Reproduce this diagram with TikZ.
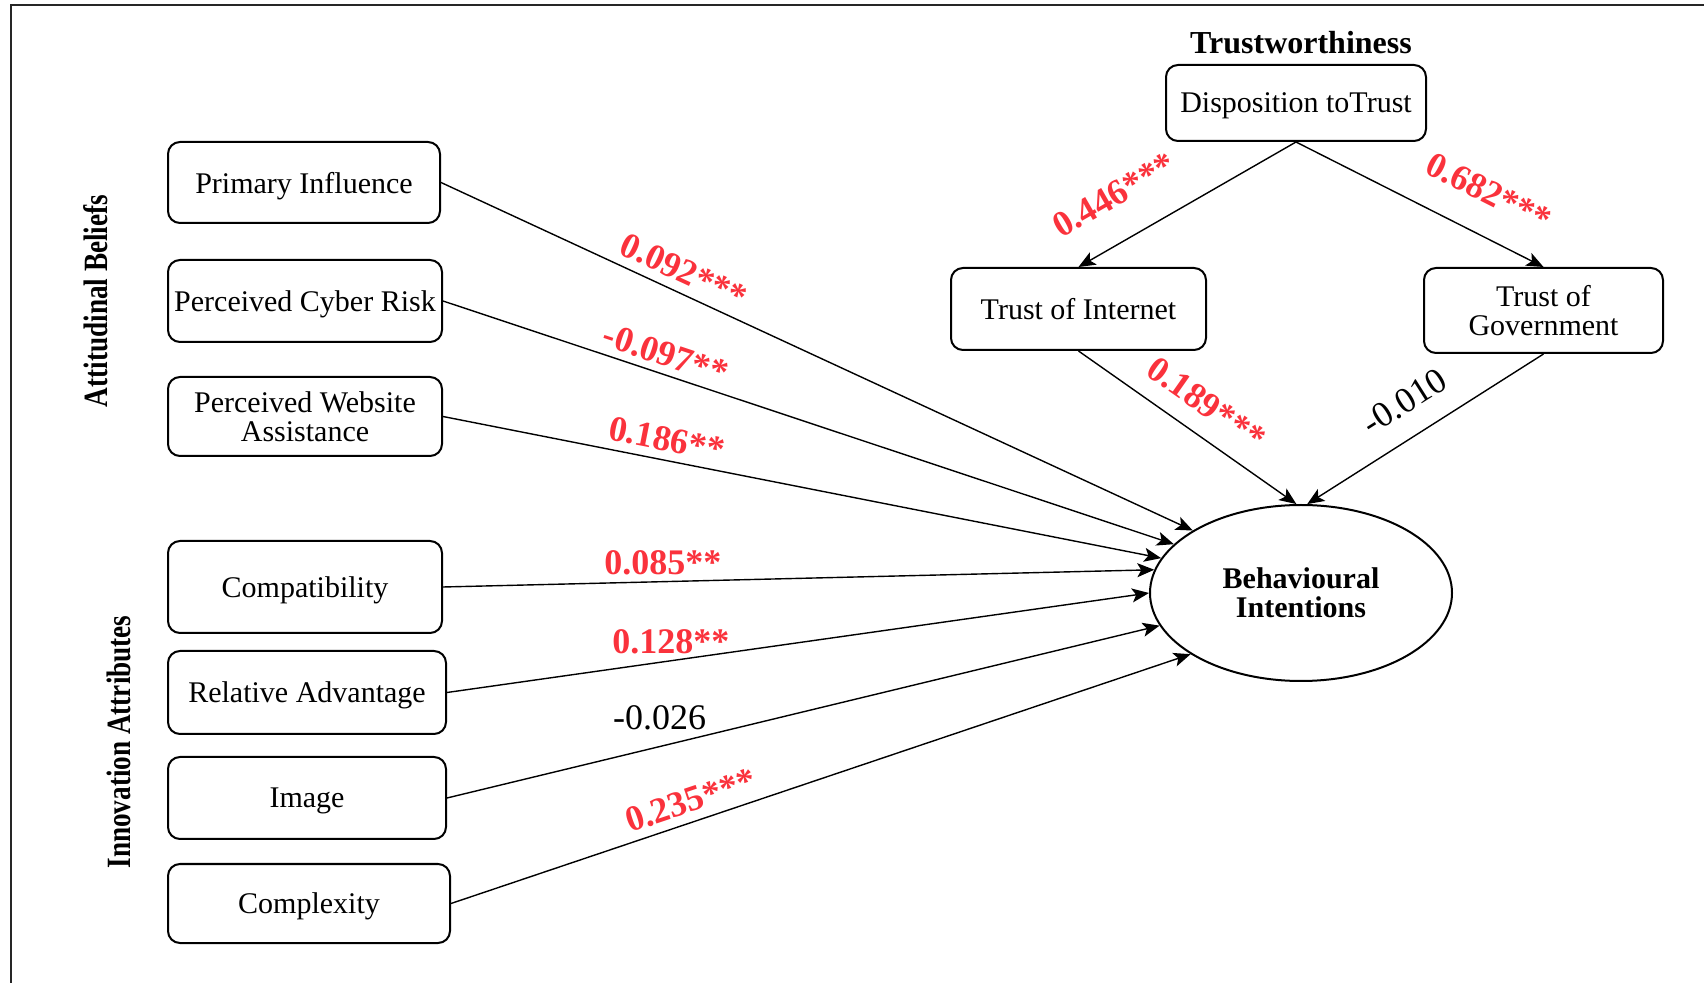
\documentclass[tikz,border=0pt]{standalone}
\usepackage{graphicx}
\usepackage{fontspec}
\setmainfont{Liberation Serif}
\usetikzlibrary{arrows.meta,shapes.geometric}
\definecolor{coef}{RGB}{250,50,60}
\begin{document}
\begin{tikzpicture}[x=0.5pt,y=-0.5pt,
  box/.style={draw, line width=1pt, rounded corners=6pt, inner sep=0pt, align=center,
    text depth=0pt, font=\fontsize{15}{14.5}\selectfont},
  outcome/.style={draw, ellipse, line width=1pt, inner sep=0pt, minimum width=151pt,
    minimum height=88pt, align=center, font=\fontsize{15}{14.5}\selectfont\bfseries},
  link/.style={line width=0.7pt, -{Stealth[length=8.5pt,width=7pt,inset=2pt]}},
  sig/.style={text=coef, font=\fontsize{18}{18}\selectfont\bfseries, inner sep=0pt},
  nsig/.style={text=black, font=\fontsize{18}{18}\selectfont, inner sep=0pt},
  group/.style={font=\fontsize{17}{17}\selectfont\bfseries, inner sep=0pt, rotate=90},
  frame/.style={line width=1.2pt, draw=black!85}
]
\useasboundingbox (0,0) rectangle (1704,983);

% open frame (left and top edges)
\draw[frame] (11,983) -- (11,5) -- (1704,5);

% group headings
\node[group] (att) at (96,301) {\scalebox{0.8}[1]{Attitudinal Beliefs}};
\node[group] (inn) at (119,742) {\scalebox{0.8}[1]{Innovation Attributes}};
\node[font=\fontsize{16}{16}\selectfont\bfseries, inner sep=0pt] (tw) at (1301,43) {Trustworthiness};

% predictor boxes
\node[box, minimum width=136pt, minimum height=40.5pt] (pi)  at (304,182.5) {Primary Influence};
\node[box, minimum width=137pt, minimum height=41pt]   (pcr) at (305,301)   {Perceived Cyber Risk};
\node[box, minimum width=137pt, minimum height=39.5pt] (pwa) at (305,416.5) {Perceived Website\\Assistance};
\node[box, minimum width=137pt, minimum height=46pt]   (cmp) at (305,587)   {Compatibility};
\node[box, minimum width=139pt, minimum height=41.5pt] (ra)  at (307,692.5) {Relative Advantage};
\node[box, minimum width=139pt, minimum height=41pt]   (img) at (307,798)   {Image};
\node[box, minimum width=141pt, minimum height=39.5pt] (cx)  at (309,903.5) {Complexity};

% trust boxes
\node[box, minimum width=130pt, minimum height=38pt]   (dt)  at (1296,103)   {Disposition toTrust};
\node[box, minimum width=127.5pt, minimum height=41pt] (ti)  at (1078.5,309) {Trust of Internet};
\node[box, minimum width=119.5pt, minimum height=42.5pt] (tg) at (1543.5,310.5) {Trust of\\Government};

% outcome
\node[outcome] (bi) at (1301,593) {Behavioural\\Intentions};

% paths from predictors
\draw[link] (pi.east)  -- (bi.150) node[sig, pos=0.311, sloped, above=4.4pt] {0.092***};
\draw[link] (pcr.east) -- (bi.159) node[sig, pos=0.296, sloped, above=3.5pt] {-0.097**};
\draw[link] (pwa.east) -- (bi.166) node[sig, pos=0.306, sloped, above=4pt] {0.186**};
\draw[link] (cmp.east) -- (bi.171) node[sig, pos=0.309, above=2.9pt] {0.085**};
\draw[link] (ra.east)  -- (bi.180) node[sig, pos=0.319, above=2.9pt] {0.128**};
\draw[link] (img.east) -- (bi.193.6) node[nsig, pos=0.2985, above=7.9pt] {-0.026};
\draw[link] (cx.east)  -- (bi.209.6) node[sig, pos=0.333, sloped, above=4.2pt] {0.235***};

% trust paths
\draw[link] (dt.south) -- (ti.north) node[sig, pos=0.734, sloped, above=16pt] {0.446***};
\draw[link] (dt.south) -- (tg.north) node[sig, pos=0.703, sloped, above=14.7pt] {0.682***};
\draw[link] (ti.south) -- (bi.93) node[sig, pos=0.506, sloped, above=8.8pt] {0.189***};
\draw[link] (tg.south) -- (bi.86) node[nsig, pos=0.51, sloped, above=10.7pt] {-0.010};
\end{tikzpicture}
\end{document}
